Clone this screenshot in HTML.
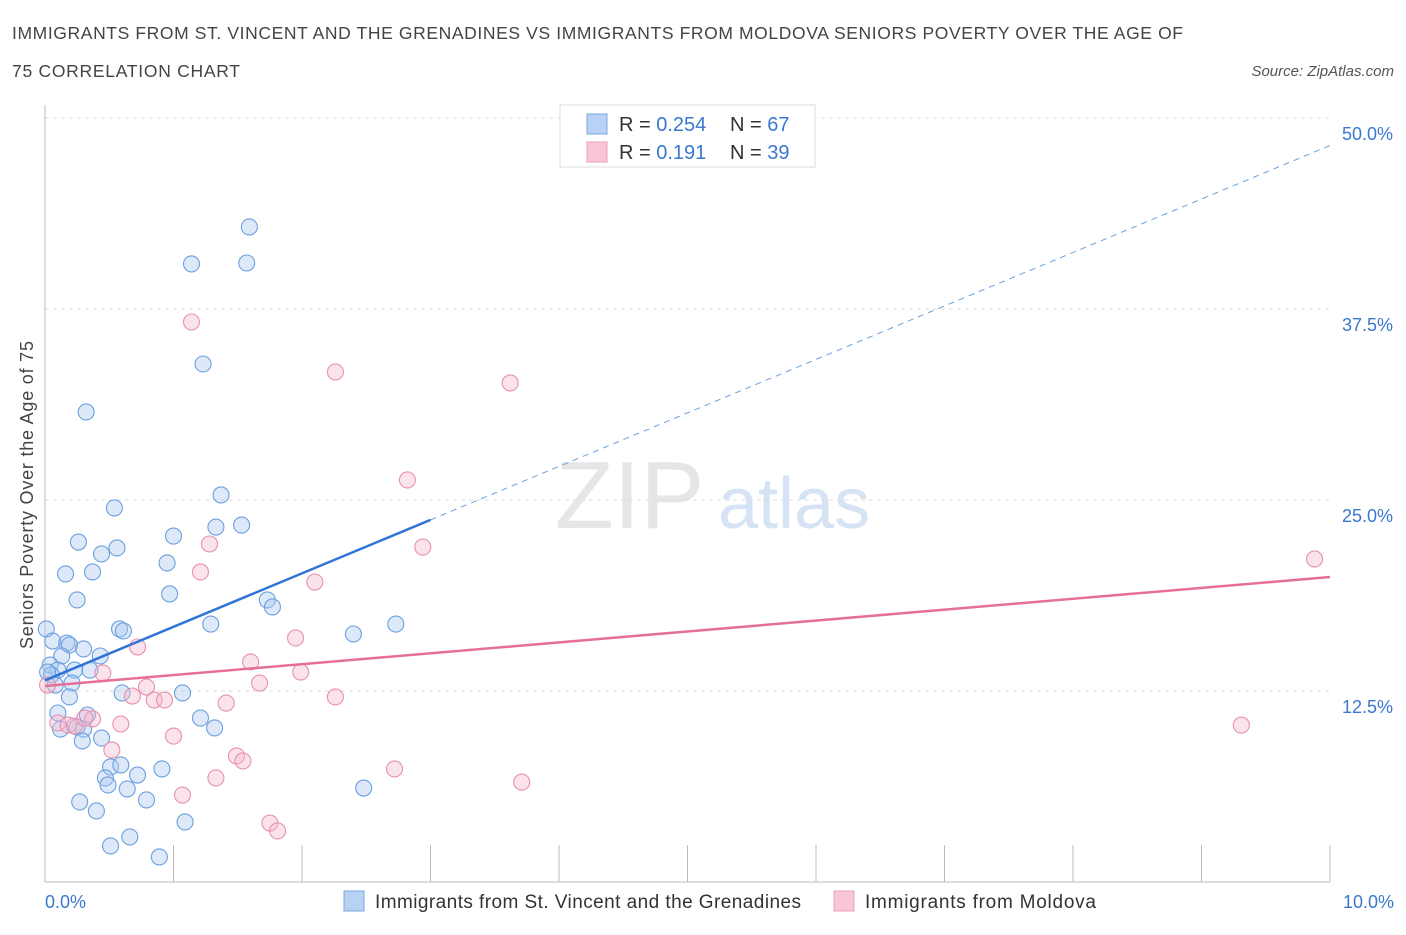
<!DOCTYPE html>
<html><head><meta charset="utf-8"><style>
body{margin:0;background:#fff;font-family:"Liberation Sans",sans-serif;}
svg text{font-family:"Liberation Sans",sans-serif;}
</style></head><body>
<svg id="c" width="1406" height="930" viewBox="0 0 1406 930">
<text x="12" y="39" font-size="17.5" fill="#444" textLength="1171" lengthAdjust="spacing">IMMIGRANTS FROM ST. VINCENT AND THE GRENADINES VS IMMIGRANTS FROM MOLDOVA SENIORS POVERTY OVER THE AGE OF</text>
<text x="12" y="77" font-size="17.5" fill="#444" textLength="228" lengthAdjust="spacing">75 CORRELATION CHART</text>
<text x="1394" y="76" font-size="15" fill="#555" font-style="italic" text-anchor="end">Source: ZipAtlas.com</text>
<text x="33" y="495" font-size="18" fill="#444" text-anchor="middle" textLength="308" lengthAdjust="spacing" transform="rotate(-90 33 495)">Seniors Poverty Over the Age of 75</text>
<text x="555" y="528" font-size="96" fill="#e6e6e6" font-family="Liberation Serif">ZIP</text>
<text x="718" y="528" font-size="72" fill="#d6e3f5">atlas</text>
<g id="grid"></g><g id="marks"></g>
<g>
<rect x="560" y="105" width="255" height="62" fill="#fff" stroke="#ddd"/>
<rect x="587" y="114" width="20" height="20" fill="#b8d2f4" stroke="#7aa8e2"/>
<rect x="587" y="142" width="20" height="20" fill="#f8c6d6" stroke="#eba0b8"/>
<text x="619" y="131" font-size="20" fill="#333">R = <tspan fill="#3a78d0">0.254</tspan></text>
<text x="730" y="131" font-size="20" fill="#333">N = <tspan fill="#3a78d0">67</tspan></text>
<text x="619" y="159" font-size="20" fill="#333">R =  <tspan fill="#3a78d0">0.191</tspan></text>
<text x="730" y="159" font-size="20" fill="#333">N = <tspan fill="#3a78d0">39</tspan></text>
</g>
<g>
<rect x="344" y="891" width="20" height="20" fill="#b8d2f4" stroke="#7aa8e2"/>
<text x="375" y="908" font-size="19" fill="#333" textLength="426" lengthAdjust="spacing">Immigrants from St. Vincent and the Grenadines</text>
<rect x="834" y="891" width="20" height="20" fill="#f8c6d6" stroke="#eba0b8"/>
<text x="865" y="908" font-size="19" fill="#333" textLength="231" lengthAdjust="spacing">Immigrants from Moldova</text>
</g>
<text x="45" y="908" font-size="18" fill="#3a78d0">0.0%</text>
<text x="1394" y="908" font-size="18" fill="#3a78d0" text-anchor="end">10.0%</text>
</svg>
<script>
const yTicks=[12.5,25,37.5,50];
const yTickLabels=["12.5%","25.0%","37.5%","50.0%"];
const blueX=[1.59,1.14,1.57,1.23,0.32,1.37,0.54,1.00,0.26,0.56,0.44,1.33,1.53,0.95,0.16,0.37,0.25,0.97,1.73,1.77,0.58,0.61,1.29,2.40,2.73,0.01,0.06,0.17,0.19,0.30,0.13,0.43,0.04,0.10,0.23,0.35,0.05,0.02,0.08,0.21,0.19,0.60,1.07,0.10,0.33,0.12,0.25,0.30,1.21,1.32,0.44,0.29,0.51,0.59,0.72,0.91,0.47,0.49,0.64,0.27,0.79,0.40,1.09,0.66,0.51,0.89,2.48];
const blueY=[42.87,40.45,40.51,33.90,30.76,25.33,24.48,22.64,22.25,21.86,21.47,23.23,23.36,20.88,20.16,20.29,18.46,18.85,18.46,18.00,16.56,16.43,16.88,16.23,16.88,16.56,15.77,15.64,15.51,15.25,14.79,14.79,14.20,13.87,13.87,13.87,13.55,13.74,12.89,13.02,12.11,12.37,12.37,11.06,10.93,10.01,10.14,10.01,10.73,10.08,9.42,9.23,7.53,7.66,7.00,7.40,6.81,6.35,6.09,5.24,5.37,4.65,3.93,2.95,2.36,1.64,6.15];
const pinkX=[1.14,2.26,3.62,2.82,2.94,1.28,1.21,2.10,9.88,0.72,1.95,1.60,1.99,0.45,1.67,0.79,0.68,0.85,0.93,2.26,1.41,0.37,0.59,0.10,0.18,0.23,0.31,9.31,1.00,0.52,1.49,1.54,2.72,1.33,3.71,1.07,1.75,1.81,0.02];
const pinkY=[36.65,33.38,32.66,26.31,21.92,22.12,20.29,19.63,21.14,15.38,15.97,14.40,13.74,13.68,13.02,12.76,12.17,11.91,11.91,12.11,11.71,10.67,10.34,10.41,10.27,10.21,10.73,10.27,9.55,8.64,8.25,7.92,7.40,6.81,6.54,5.69,3.86,3.34,12.89];
const blueTrend=[13.2,3.5]; // intercept, slope
const blueSolidEnd=3.0;
const pinkTrend=[12.83,0.713];
const NS="http://www.w3.org/2000/svg";
const X=v=>45+v*128.5, Y=v=>882-v*15.28;
function mk(t,a,p){const e=document.createElementNS(NS,t);for(const k in a)e.setAttribute(k,a[k]);p.appendChild(e);return e;}
const g=document.getElementById('grid'), m=document.getElementById('marks');
yTicks.forEach((t,i)=>{
 const l=mk('line',{x1:45,x2:1330,y1:Y(t),y2:Y(t),stroke:'#ddd','stroke-dasharray':'4,4'},g);
 
 
 const tx=mk('text',{x:1393,y:Y(t)+22,'font-size':18,fill:'#3a78d0','text-anchor':'end'},g);
 tx.textContent=yTickLabels[i];
 
 
});
const ya=mk('line',{x1:45,x2:45,y1:105,y2:882,stroke:'#bbb'},g);


const xa=mk('line',{x1:45,x2:1330,y1:882,y2:882,stroke:'#bbb'},g);


for(let i=0;i<=10;i++){const l=mk('line',{x1:X(i),x2:X(i),y1:845,y2:882,stroke:'#bbb'},g);
 
 }
function pts(xs,ys,fill,stroke,name){xs.forEach((x,i)=>{const c=mk('circle',{cx:X(x),cy:Y(ys[i]),r:8,fill:fill,'fill-opacity':0.4,stroke:stroke,'stroke-width':1.1},m);
 
 });}
pts(blueX,blueY,'#a9c8f0','#6a9fe0','point-st-vincent');
pts(pinkX,pinkY,'#f5b8cc','#e890b0','point-moldova');
const bf=v=>blueTrend[0]+blueTrend[1]*v, pf=v=>pinkTrend[0]+pinkTrend[1]*v;
const b1=mk('line',{x1:X(0),y1:Y(bf(0)),x2:X(blueSolidEnd),y2:Y(bf(blueSolidEnd)),stroke:'#2f74d6','stroke-width':2.5},m);


const b2=mk('line',{x1:X(blueSolidEnd),y1:Y(bf(blueSolidEnd)),x2:X(10),y2:Y(bf(10)),stroke:'#6a9fe0','stroke-width':1,'stroke-dasharray':'6,5'},m);


const p1=mk('line',{x1:X(0),y1:Y(pf(0)),x2:X(10),y2:Y(pf(10)),stroke:'#e4709a','stroke-width':2.5},m);


</script>
</body></html>
